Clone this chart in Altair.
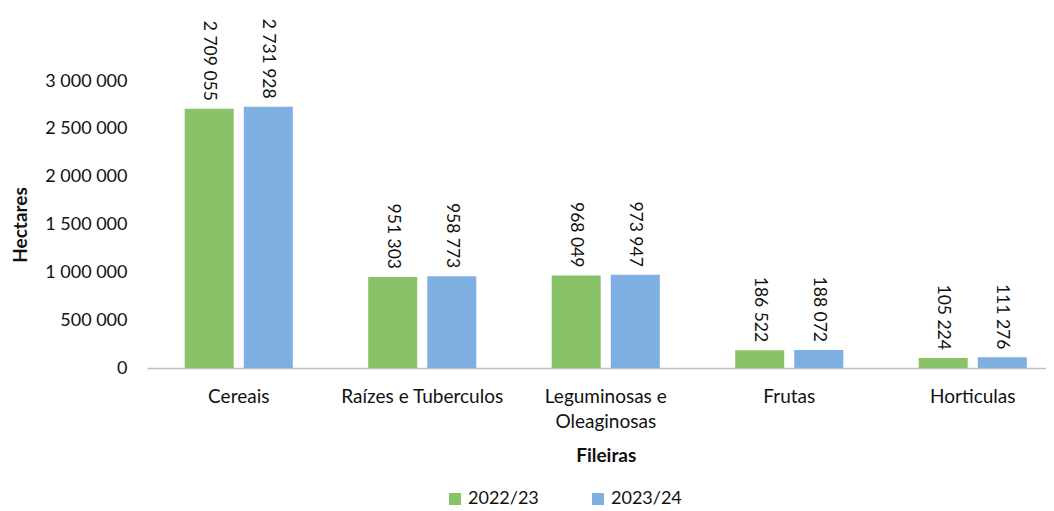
import altair as alt
import pandas as pd

categories = ["Cereais", "Raízes e Tuberculos", "Leguminosas e Oleaginosas", "Frutas", "Horticulas"]
series = ["2022/23", "2023/24"]
v_2022 = [2709055, 951303, 968049, 186522, 105224]
v_2023 = [2731928, 958773, 973947, 188072, 111276]
y_ticks = [0, 500000, 1000000, 1500000, 2000000, 2500000, 3000000]
colors = ["#8AC268", "#7DB0E0"]

rows = []
for c, a, b in zip(categories, v_2022, v_2023):
    rows.append({"Fileira": c, "Ano": series[0], "Hectares": a})
    rows.append({"Fileira": c, "Ano": series[1], "Hectares": b})
df = pd.DataFrame(rows)

FONT = "Lato"

x = alt.X(
    "Fileira:N",
    sort=categories,
    scale=alt.Scale(range=[0, 917.5], paddingInner=0.411, paddingOuter=0.2055),
    axis=alt.Axis(
        title="Fileiras",
        labelAngle=0,
        ticks=False,
        domainColor="#C0C0C0",
        domainWidth=1.5,
        labelFontSize=19,
        labelFont=FONT,
        labelColor="#111111",
        labelPadding=19,
        labelLimit=400,
        labelLineHeight=25,
        labelExpr="datum.value == 'Leguminosas e Oleaginosas' ? ['Leguminosas e', 'Oleaginosas'] : datum.label",
        titleFont=FONT,
        titleFontSize=19,
        titleFontWeight="bold",
        titleColor="#111111",
        titlePadding=15,
    ),
)
xo = alt.XOffset("Ano:N", sort=series, scale=alt.Scale(paddingInner=0.17, paddingOuter=0))
y = alt.Y(
    "Hectares:Q",
    scale=alt.Scale(domain=[0, 3000000], nice=False),
    axis=alt.Axis(
        title="Hectares",
        values=y_ticks,
        labelExpr="replace(replace(format(datum.value, ','), ',', ' '), ',', ' ')",
        grid=False,
        domain=False,
        ticks=False,
        labelPadding=20,
        labelFontSize=18,
        labelFont=FONT,
        labelColor="#111111",
        titleFont=FONT,
        titleFontSize=19,
        titleFontWeight="bold",
        titleColor="#111111",
        titlePadding=14,
    ),
)
color = alt.Color(
    "Ano:N",
    sort=series,
    scale=alt.Scale(domain=series, range=colors),
    legend=alt.Legend(
        title=None,
        orient="none",
        legendX=299,
        legendY=409,
        direction="horizontal",
        symbolType="square",
        symbolSize=144,
        symbolStrokeWidth=0,
        labelFontSize=18,
        labelFont=FONT,
        labelColor="#111111",
        labelOffset=4,
        columnPadding=50,
    ),
)

base = alt.Chart(df).encode(x=x, xOffset=xo, y=y)
bars = base.mark_bar().encode(color=color)
labels = base.mark_text(angle=90, align="right", baseline="middle", dx=-8, fontSize=17.5, font=FONT, color="#111111").encode(
    text=alt.Text("lbl:N")
).transform_calculate(lbl="replace(replace(format(datum.Hectares, ','), ',', ' '), ',', ' ')")

chart = alt.layer(bars, labels).properties(
    width=899,
    height=287,
    autosize=alt.AutoSizeParams(type="none"),
    padding={"left": 139, "top": 73, "right": 0, "bottom": 143},
).configure_view(stroke=None)

chart.save("out.html", embed_options={"renderer": "svg", "actions": False})
